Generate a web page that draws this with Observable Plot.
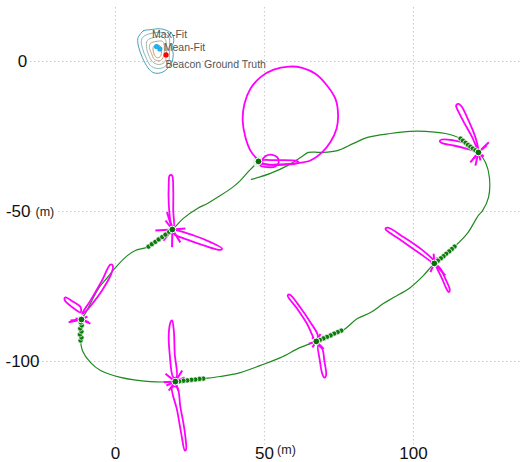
<!DOCTYPE html>
<html><head><meta charset="utf-8">
<script src="https://cdn.jsdelivr.net/npm/d3@7"></script>
<script src="https://cdn.jsdelivr.net/npm/@observablehq/plot@0.6"></script>
<style>body{margin:0;background:#fff;font-family:"Liberation Sans",Arial,sans-serif}</style>
</head><body><div id="chart"></div>
<script>
const xTicks = [0, 50, 100];
const yTicks = [0, -50, -100];

// vehicle track (m)
const track = [[45.6,-39.3],[52.0,-37.3],[57.7,-34.7],[62.1,-32.0],[64.8,-30.3],[68.8,-30.3],[74.5,-29.7],[79.9,-27.3],[84.6,-25.3],[92.3,-24.0],[99.0,-23.3],[104.0,-23.3],[110.7,-24.0],[115.8,-25.7],[121.8,-30.3],[124.2,-33.7],[125.5,-38.7],[125.2,-45.3],[123.2,-49.7],[121.8,-51.3],[118.1,-57.3],[113.8,-61.7],[107.0,-67.3],[103.4,-71.3],[99.0,-75.3],[93.3,-78.7],[89.9,-80.7],[85.6,-83.7],[81.2,-85.7],[76.2,-89.7],[67.4,-93.3],[62.1,-95.3],[55.4,-98.7],[48.7,-101.3],[41.9,-103.7],[35.2,-105.0],[29.5,-105.7],[20.1,-106.7],[11.7,-106.7],[1.7,-105.3],[-5.0,-103.0],[-8.4,-100.3],[-11.1,-96.3],[-11.7,-93.0],[-11.4,-86.0],[-10.1,-84.0],[-8.4,-80.7],[-5.7,-75.7],[-2.7,-72.0],[0.0,-68.7],[4.0,-64.7],[6.7,-63.0],[11.1,-61.7],[19.1,-56.0],[22.8,-52.3],[27.5,-49.0],[30.9,-47.3],[35.2,-44.7],[39.6,-41.7],[41.9,-39.7],[45.0,-36.3],[48.0,-33.3]];

// measurement stops
const stopX = [48.0, 121.8, 107.0, 67.4, 20.1, -11.4, 19.1];
const stopY = [-33.3, -30.3, -67.3, -93.3, -106.7, -86.0, -56.0];

// trailing positions before each stop
const trail2 = [[115.8,-25.7],[116.6,-26.4],[117.5,-27.1],[118.3,-27.8],[119.1,-28.4],[119.9,-29.0],[120.8,-29.6]];
const trail3 = [[113.8,-61.7],[112.9,-62.5],[112.0,-63.3],[111.0,-64.1],[110.1,-64.9],[109.2,-65.6],[108.2,-66.4]];
const trail4 = [[75.8,-89.7],[74.6,-90.2],[73.4,-90.7],[72.2,-91.3],[71.0,-91.8],[69.8,-92.3],[68.6,-92.8]];
const trail5 = [[29.5,-105.7],[28.2,-105.8],[26.8,-106.0],[25.5,-106.1],[24.1,-106.3],[22.8,-106.4],[21.4,-106.6]];
const trail6 = [[-11.7,-93.0],[-11.4,-92.0],[-11.9,-91.0],[-11.4,-90.0],[-11.8,-89.0],[-11.3,-88.0],[-11.6,-87.0]];
const trail7 = [[11.1,-61.7],[12.2,-60.9],[13.4,-60.1],[14.5,-59.3],[15.7,-58.5],[16.8,-57.7],[18.0,-56.8]];

// received-signal patterns (lobes)
const stop1Loop = [[48.1,-33.0],[45.3,-29.7],[43.6,-25.2],[42.7,-19.7],[43.3,-14.1],[45.3,-9.1],[48.7,-5.2],[53.1,-2.7],[58.2,-1.7],[62.7,-2.1],[67.1,-4.1],[71.0,-8.0],[73.8,-12.4],[74.7,-17.4],[74.2,-22.4],[72.1,-26.9],[69.4,-30.2],[65.4,-33.0],[61.0,-33.9],[55.4,-34.3],[49.8,-34.1]];
const stop1Petal = [[48.0,-33.1],[54.0,-32.9],[61.0,-33.2],[61.5,-33.7],[54.0,-34.5],[48.0,-33.7]];
const stop1Curl = [[49.2,-33.0],[50.3,-31.6],[52.6,-31.1],[54.3,-31.9],[54.8,-33.6],[53.7,-35.0],[50.9,-35.2],[48.7,-34.7]];
const stop2A = [[121.9,-30.2],[119.7,-25.2],[116.9,-20.2],[114.9,-16.3],[114.3,-14.7],[115.2,-14.1],[116.3,-15.2],[118.0,-18.6],[119.7,-22.4],[121.1,-26.3]];
const stop2B = [[121.9,-30.2],[118.0,-29.1],[113.5,-28.0],[109.6,-27.2],[108.8,-26.6],[109.6,-26.0],[113.5,-26.3],[118.0,-27.4]];
const stop3A = [[107.2,-67.4],[102.3,-64.1],[95.6,-59.4],[90.6,-55.8],[91.4,-55.4],[96.8,-58.6],[102.9,-62.8],[106.8,-66.3]];
const stop3B = [[107.2,-67.4],[108.0,-69.1],[109.6,-72.4],[111.1,-75.8],[111.8,-76.9],[112.2,-76.1],[110.7,-72.4],[109.1,-69.1]];
const stop4A = [[67.3,-93.3],[64.3,-87.4],[61.0,-82.4],[57.8,-78.0],[58.5,-77.7],[62.1,-82.1],[65.4,-86.9],[67.9,-91.3]];
const stop4B = [[68.0,-94.7],[68.6,-99.7],[69.4,-104.1],[70.1,-105.4],[70.7,-104.7],[70.1,-99.7],[69.4,-95.8]];
const stop5A = [[19.4,-105.2],[18.2,-97.4],[17.9,-90.8],[18.5,-86.9],[19.0,-86.3],[19.6,-89.8],[19.9,-97.4],[20.5,-105.2]];
const stop5B = [[19.0,-108.6],[20.7,-116.3],[22.1,-124.1],[23.3,-129.7],[23.7,-129.4],[23.2,-123.0],[21.8,-115.2],[20.7,-108.6]];
const stop6A = [[-11.2,-84.1],[-8.4,-79.7],[-4.5,-73.0],[-1.7,-67.7],[-0.9,-68.0],[-1.4,-70.8],[-4.5,-76.3],[-7.8,-80.8],[-10.3,-83.6]];
const stop6B = [[-11.7,-83.6],[-14.5,-81.9],[-17.1,-79.4],[-16.8,-78.6],[-14.0,-80.2],[-11.7,-81.9]];
const stop7A = [[18.7,-54.1],[17.9,-47.4],[17.9,-40.8],[18.2,-38.0],[19.0,-38.0],[19.4,-43.0],[19.4,-49.7],[19.6,-55.2]];
const stop7B = [[19.6,-56.3],[26.3,-58.0],[31.9,-60.2],[35.8,-62.4],[35.2,-62.8],[29.6,-61.3],[24.1,-59.4],[19.6,-57.4]];

// short side-lobe spikes (tips) per stop
const spikes2 = [[125.3,-26.9],[124.5,-28.0],[123.6,-31.7],[122.5,-33.0],[120.3,-32.4],[119.1,-33.6],[120.8,-34.7]];
const spikes3 = [[106.8,-64.1],[110.7,-71.3],[105.7,-66.9],[105.7,-70.2],[108.1,-65.3],[109.4,-69.7]];
const spikes4 = [[64.9,-94.1],[68.8,-90.8],[66.0,-91.9],[69.9,-95.8],[66.1,-95.3]];
const spikes5 = [[16.8,-104.1],[16.2,-106.9],[22.4,-103.0],[22.4,-106.9],[17.9,-109.7],[21.1,-109.7],[17.1,-108.0],[23.2,-105.3]];
const spikes6 = [[-15.1,-86.3],[-15.7,-86.9],[-9.0,-86.9],[-8.4,-87.4],[-13.4,-85.7],[-9.4,-85.0]];
const spikes7 = [[13.4,-56.3],[16.8,-53.0],[17.3,-50.2],[19.0,-61.9],[23.5,-55.7],[16.1,-59.7],[21.8,-60.3]];

// beacon likelihood contours
const ring1 = [[8.4,9.2],[9.5,10.3],[11.7,10.6],[15.1,10.9],[17.3,10.3],[19.0,9.2],[19.6,7.0],[19.0,4.8],[19.4,2.6],[19.0,-0.2],[17.9,-1.9],[15.7,-3.6],[13.4,-3.9],[11.7,-3.0],[10.1,-0.8],[9.0,1.4],[7.8,4.8],[7.5,7.6]];
const ring2 = [[9.4,8.3],[11.7,9.3],[15.1,9.7],[17.1,9.0],[18.1,7.7],[18.1,5.0],[18.1,2.0],[17.8,-0.3],[16.1,-2.0],[13.8,-2.3],[11.7,-1.3],[10.4,1.0],[9.1,4.3],[8.7,7.0]];
const ring3 = [[10.7,7.0],[12.8,8.0],[15.4,8.3],[16.8,7.3],[17.1,4.7],[17.1,1.7],[16.4,-0.3],[14.4,-1.0],[12.4,0.0],[11.1,2.3],[10.4,5.0]];
const ring4 = [[11.7,6.0],[13.8,6.7],[15.8,6.7],[16.4,5.0],[16.1,1.7],[15.1,0.3],[13.1,0.7],[12.1,2.7],[11.4,4.7]];
const ring5 = [[12.8,5.0],[14.8,5.3],[15.4,3.7],[15.1,1.7],[13.8,1.3],[12.8,3.0]];
const ringColors = ["#4a9fb5", "#86b8bd", "#a3b3a6", "#bfa58a", "#d0956a"];

// estimates
const estNames = ["Max-Fit", "Mean-Fit", "Beacon Ground Truth"];
const estX = [13.8, 14.9, 17.0];
const estY = [5.0, 4.2, 2.2];
const estColors = ["#1fb0ee", "#1fb0ee", "#ff0000"];
const labelX = [12.3, 16.2, 16.8];
const labelY = [9.1, 4.6, -1.0];

// ---- build tables ----
const lobeTable = [];
[["s1loop",stop1Loop],["s1petal",stop1Petal],["s1curl",stop1Curl],["s2a",stop2A],["s2b",stop2B],["s3a",stop3A],["s3b",stop3B],["s4a",stop4A],["s4b",stop4B],["s5a",stop5A],["s5b",stop5B],["s6a",stop6A],["s6b",stop6B],["s7a",stop7A],["s7b",stop7B]]
  .forEach(([id, pts]) => pts.forEach(([x, y]) => lobeTable.push({id, x, y})));
const spikeTable = [];
[[1,spikes2],[2,spikes3],[3,spikes4],[4,spikes5],[5,spikes6],[6,spikes7]]
  .forEach(([i, tips]) => tips.forEach(([x, y]) => spikeTable.push({x1: stopX[i], y1: stopY[i], x2: x, y2: y})));
const trailTable = [trail2, trail3, trail4, trail5, trail6, trail7].flat().map(([x, y]) => ({x, y}));
const stopTable = stopX.map((x, i) => ({x, y: stopY[i]}));
const ringTable = [];
[ring1, ring2, ring3, ring4, ring5].forEach((r, i) => r.forEach(([x, y]) => ringTable.push({ring: i, x, y})));
const trackTable = track.map(([x, y]) => ({x, y}));
const estTable = estNames.map((n, i) => ({name: n, x: estX[i], y: estY[i], c: estColors[i], lx: labelX[i], ly: labelY[i]}));

const grid = {stroke: "#c6c6da", strokeOpacity: 1, strokeDasharray: "1.5,2.5", strokeWidth: 1};
const chart = Plot.plot({
  width: 522, height: 462,
  marginLeft: 30, marginRight: 0, marginTop: 7, marginBottom: 17,
  x: {domain: [-28.5, 136.6]},
  y: {domain: [-128, 18]},
  style: {fontFamily: "'Liberation Sans', Arial, sans-serif", background: "#fff"},
  marks: [
    Plot.gridX(xTicks, grid),
    Plot.gridY(yTicks, grid),
    Plot.axisX(xTicks, {tickSize: 0, tickPadding: 1, fontSize: 17, color: "#111", tickFormat: d => String(d)}),
    Plot.axisY([0, -100], {tickSize: 0, tickPadding: 8, textAnchor: "middle", fontSize: 17, color: "#111", tickFormat: d => String(d)}),
    Plot.axisY([-50], {tickSize: 0, tickPadding: 0, textAnchor: "end", fontSize: 17, color: "#111", tickFormat: d => String(d)}),
    Plot.text(["(m)"], {x: () => 50, frameAnchor: "bottom", dx: 22, dy: 8, fontSize: 12.5, fill: "#222", text: d => d}),
    Plot.text(["(m)"], {y: () => -50, frameAnchor: "left", dx: 5, textAnchor: "start", fontSize: 12.5, fill: "#222", stroke: "#fff", strokeWidth: 5, paintOrder: "stroke", text: d => d}),
    Plot.line(ringTable, {x: "x", y: "y", z: "ring", curve: "catmull-rom-closed", stroke: d => ringColors[d.ring], strokeWidth: 1}),
    Plot.line(trackTable, {x: "x", y: "y", curve: "catmull-rom", stroke: "#1f8a1f", strokeWidth: 1.2}),
    Plot.dot([stopTable[0]], {x: "x", y: "y", r: 6, fill: "#e6f3e6", stroke: "none"}),
    Plot.line(lobeTable, {x: "x", y: "y", z: "id", curve: "catmull-rom-closed", stroke: "#ff00ff", strokeWidth: 1.8}),
    Plot.link(spikeTable, {x1: "x1", y1: "y1", x2: "x2", y2: "y2", stroke: "#ff00ff", strokeWidth: 2}),
    Plot.dot(trailTable, {x: "x", y: "y", r: 2.6, fill: "#0b7a0b", stroke: "#fff", strokeWidth: 0.7}),
    Plot.dot(stopTable, {x: "x", y: "y", r: 3.4, fill: "#0b6e0b", stroke: "#fff", strokeWidth: 1}),
    Plot.dot(estTable, {x: "x", y: "y", r: 2.6, fill: "c", stroke: "none"}),
    Plot.text(estTable, {x: "lx", y: "ly", text: "name", textAnchor: "start", fontSize: 10.5, fill: "#555"})
  ]
});
document.getElementById("chart").appendChild(chart);
</script>
</body></html>
